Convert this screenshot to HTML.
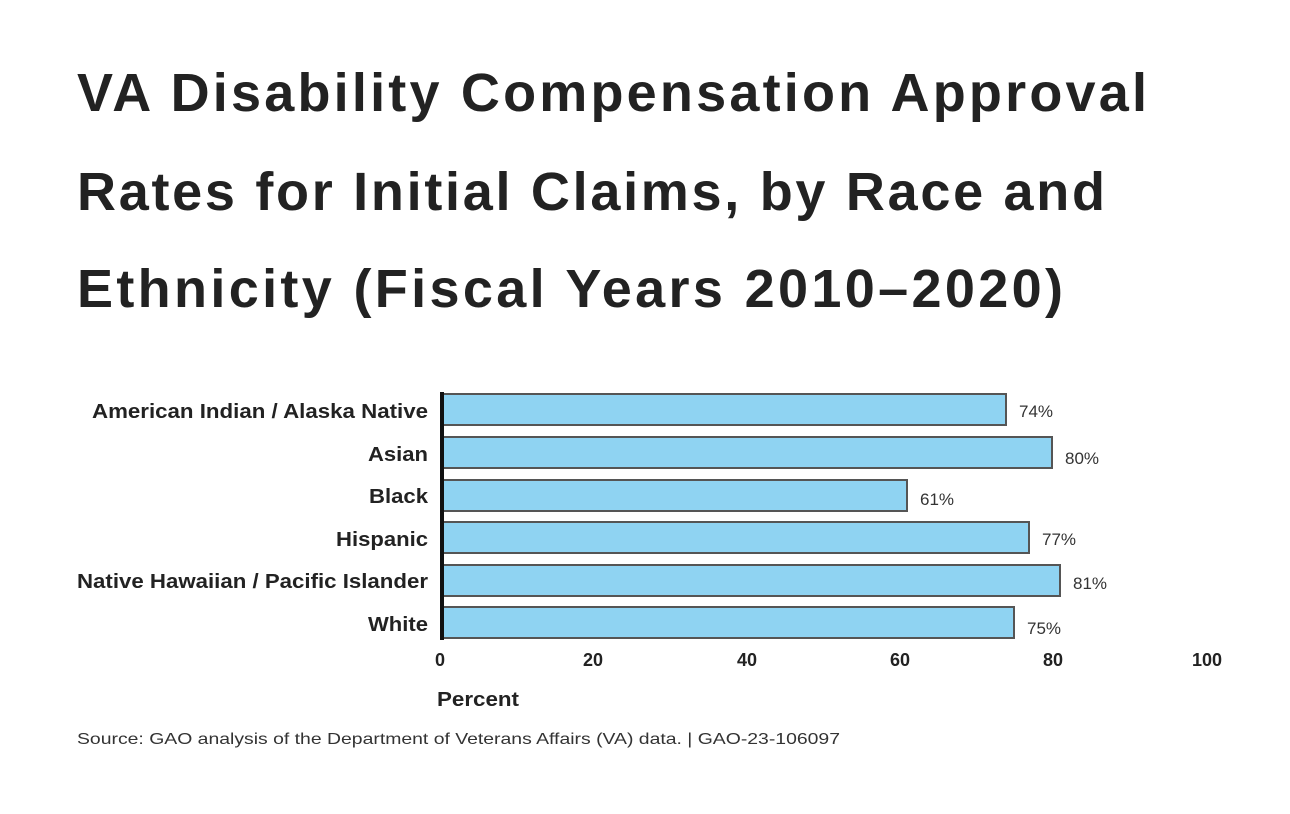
<!DOCTYPE html>
<html><head><meta charset="utf-8"><style>
body{margin:0;background:#fff;width:1290px;height:814px;overflow:hidden;}
svg{position:absolute;left:0;top:0;}
</style></head><body>
<svg width="1290" height="814" font-family="Liberation Sans, sans-serif">
<g font-size="54" font-weight="bold" fill="#222">
<text x="77" y="111" textLength="1070" lengthAdjust="spacing">VA Disability Compensation Approval</text>
<text x="77" y="210" textLength="1028" lengthAdjust="spacing">Rates for Initial Claims, by Race and</text>
<text x="77" y="307" textLength="986" lengthAdjust="spacing">Ethnicity (Fiscal Years 2010–2020)</text>
</g>
<g fill="#8fd3f2" stroke="#555" stroke-width="2">
<rect x="443" y="394" width="563" height="31"/>
<rect x="443" y="437" width="609" height="31"/>
<rect x="443" y="480" width="464" height="31"/>
<rect x="443" y="522" width="586" height="31"/>
<rect x="443" y="565" width="617" height="31"/>
<rect x="443" y="607" width="571" height="31"/>
</g>
<line x1="442" y1="392" x2="442" y2="640" stroke="#111" stroke-width="4"/>
<g font-size="20" font-weight="bold" fill="#222">
<text x="92" y="418" textLength="336" lengthAdjust="spacingAndGlyphs">American Indian / Alaska Native</text>
<text x="368" y="461" textLength="60" lengthAdjust="spacingAndGlyphs">Asian</text>
<text x="369" y="503" textLength="59" lengthAdjust="spacingAndGlyphs">Black</text>
<text x="336" y="546" textLength="92" lengthAdjust="spacingAndGlyphs">Hispanic</text>
<text x="77" y="588" textLength="351" lengthAdjust="spacingAndGlyphs">Native Hawaiian / Pacific Islander</text>
<text x="368" y="631" textLength="60" lengthAdjust="spacingAndGlyphs">White</text>
</g>
<g font-size="17" fill="#333">
<text x="1019" y="417">74%</text>
<text x="1065" y="464">80%</text>
<text x="920" y="505">61%</text>
<text x="1042" y="545">77%</text>
<text x="1073" y="589">81%</text>
<text x="1027" y="634">75%</text>
</g>
<g font-size="18" font-weight="bold" fill="#222" text-anchor="middle">
<text x="440" y="666">0</text>
<text x="593" y="666">20</text>
<text x="747" y="666">40</text>
<text x="900" y="666">60</text>
<text x="1053" y="666">80</text>
<text x="1207" y="666">100</text>
</g>
<text x="437" y="706" font-size="20" font-weight="bold" fill="#222" textLength="82" lengthAdjust="spacingAndGlyphs">Percent</text>
<text x="77" y="744" font-size="16" fill="#333" textLength="763" lengthAdjust="spacingAndGlyphs">Source: GAO analysis of the Department of Veterans Affairs (VA) data.  |  GAO-23-106097</text>
</svg>
</body></html>
